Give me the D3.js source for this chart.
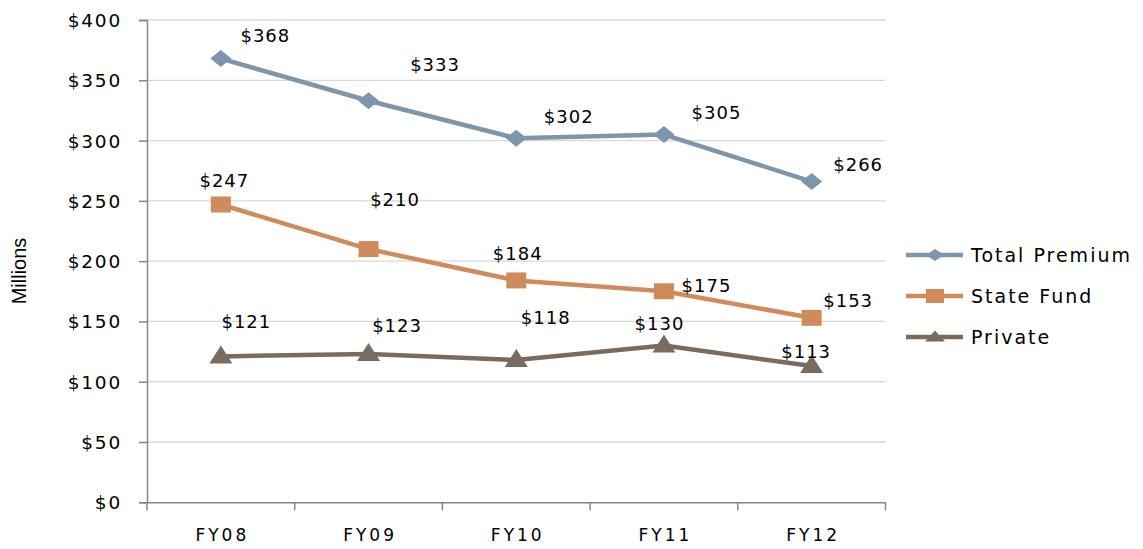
<!DOCTYPE html>
<html><head><meta charset="utf-8">
<script src="https://cdn.jsdelivr.net/npm/d3@7"></script>
<style>
body{margin:0;background:#fff;}
text{font-family:"DejaVu Sans",sans-serif;fill:#000;}
</style></head>
<body><svg id="c" width="1143" height="549"></svg>
<script>
const categories = ["FY08","FY09","FY10","FY11","FY12"];
const seriesNames = ["Total Premium","State Fund","Private"];
const totalPremium = [368,333,302,305,266];
const stateFund = [247,210,184,175,153];
const privateIns = [121,123,118,130,113];
const yTicks = [0,50,100,150,200,250,300,350,400];
// label offsets (px) relative to each point
const totalLabelOff = [[44,-23],[66,-36],[52,-21],[52,-22],[46,-17]];
const stateLabelOff = [[3,-24],[26,-49],[1,-27],[42,-6],[36,-17]];
const privLabelOff = [[25,-35],[28,-28],[29,-42],[-5,-22],[-6,-14]];

const svg = d3.select("#c");
const L=147,R=885.5,T=20,B=502.3;
const x = d3.scaleBand().domain(categories).range([L,R]).paddingInner(0).paddingOuter(0);
const y = d3.scaleLinear().domain([0,400]).range([B,T]);
const cx = c => x(c)+x.bandwidth()/2;

function shape(type,w,h){
  const a=w/2,b=h/2;
  if(type==="diamond") return `M0,${-b}L${a},0L0,${b}L${-a},0Z`;
  if(type==="square") return `M${-a},${-b}H${a}V${b}H${-a}Z`;
  return `M0,${-b}L${a},${b}L${-a},${b}Z`;
}

// gridlines
svg.append("g").selectAll("line").data(yTicks.filter(d=>d>0)).join("line")
  .attr("x1",L).attr("x2",R).attr("y1",d=>y(d)).attr("y2",d=>y(d))
  .attr("stroke","#d9d9d9").attr("stroke-width",1.3);

// y axis
const ya = svg.append("g").attr("transform",`translate(${L},0)`)
  .call(d3.axisLeft(y).tickValues(yTicks).tickSize(8).tickFormat(d=>"$"+d));
ya.select(".domain").attr("stroke","#868686").attr("stroke-width",1.5);
ya.selectAll(".tick line").attr("stroke","#868686").attr("stroke-width",1.5);
ya.selectAll("text").attr("font-size","18.5px").attr("letter-spacing","1.8px").attr("x",-25).attr("dy","0.35em")
  .style("font-family","'DejaVu Sans',sans-serif");

// x axis
const xa = svg.append("g").attr("transform",`translate(0,${B})`)
  .call(d3.axisBottom(x).tickSize(0));
xa.select(".domain").attr("stroke","#868686").attr("stroke-width",1.5);
xa.selectAll("text").attr("font-size","17px").attr("letter-spacing","3px").attr("y",33).attr("dy","0.35em")
  .attr("dx","1.5px")
  .style("font-family","'DejaVu Sans',sans-serif");
const bounds = categories.map(c=>x(c)).concat([R]);
svg.append("g").selectAll("line").data(bounds).join("line")
  .attr("x1",d=>d).attr("x2",d=>d).attr("y1",B).attr("y2",B+8)
  .attr("stroke","#868686").attr("stroke-width",1.5);

// Y label
svg.append("text").attr("transform",`translate(26,${271}) rotate(-90)`)
  .attr("text-anchor","middle").attr("font-size","20px")
  .style("font-family","'Liberation Sans',sans-serif").text("Millions");

const series = [
  {name:seriesNames[0], vals:totalPremium, color:"#7d96ab", marker:"diamond", off:totalLabelOff, mw:21, mh:17, lw:18, lh:12},
  {name:seriesNames[1], vals:stateFund, color:"#cf8b5b", marker:"square", off:stateLabelOff, mw:20, mh:16, lw:18, lh:14},
  {name:seriesNames[2], vals:privateIns, color:"#7b6a5e", marker:"triangle", off:privLabelOff, mw:23, mh:18, lw:20, lh:11}
];
const line = d3.line().x((d,i)=>cx(categories[i])).y(d=>y(d));

series.forEach(s=>{
  svg.append("path").attr("d",line(s.vals)).attr("fill","none")
    .attr("stroke",s.color).attr("stroke-width",4.5).attr("stroke-linejoin","round");
  svg.append("g").selectAll("path").data(s.vals).join("path")
    .attr("transform",(d,i)=>`translate(${cx(categories[i])},${y(d) + (s.marker==="triangle"?-2:0)})`)
    .attr("d",shape(s.marker,s.mw,s.mh)).attr("fill",s.color);
  svg.append("g").selectAll("text").data(s.vals).join("text")
    .attr("x",(d,i)=>cx(categories[i])+s.off[i][0]+0.5)
    .attr("y",(d,i)=>y(d)+s.off[i][1])
    .attr("dy","0.35em").attr("text-anchor","middle")
    .attr("font-size","18px").attr("letter-spacing","1px").text(d=>"$"+d);
});

// legend
const lg = svg.append("g");
series.forEach((s,i)=>{
  const yy = 255 + i*41;
  lg.append("line").attr("x1",906).attr("x2",963).attr("y1",yy).attr("y2",yy)
    .attr("stroke",s.color).attr("stroke-width",4.5);
  lg.append("path").attr("transform",`translate(935,${yy + (s.marker==="triangle"?-1:0)})`)
    .attr("d",shape(s.marker,s.lw,s.lh)).attr("fill",s.color);
  lg.append("text").attr("x",971).attr("y",yy).attr("dy","0.35em")
    .attr("font-size","19px").attr("letter-spacing","2px").text(s.name);
});
</script></body></html>
